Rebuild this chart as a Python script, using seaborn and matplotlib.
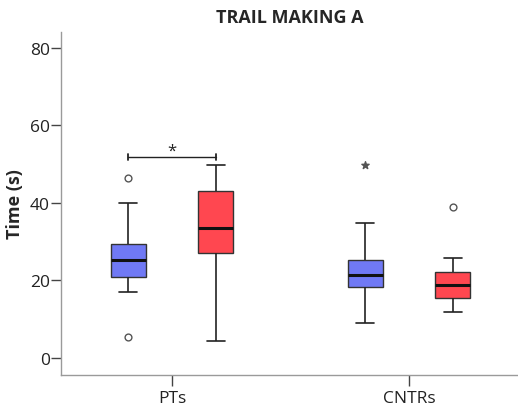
import matplotlib
matplotlib.use("Agg")
import matplotlib.pyplot as plt
import seaborn as sns
import pandas as pd

# Five-number summaries (lower whisker, Q1, median, Q3, upper whisker), seconds
groups = ["PTs", "CNTRs"]
conditions = ["Blue", "Red"]
pts_blue = [17.0, 20.9, 25.4, 29.4, 39.9]
pts_red = [4.5, 27.1, 33.5, 43.1, 49.9]
cntrs_blue = [9.0, 18.4, 21.4, 25.4, 34.8]
cntrs_red = [11.9, 15.4, 18.9, 22.1, 25.8]

# Outliers: (group, condition, value); extremes drawn as stars
outlier_groups = ["PTs", "PTs", "CNTRs"]
outlier_conds = ["Blue", "Blue", "Red"]
outlier_values = [46.4, 5.5, 38.9]
extreme_groups = ["CNTRs"]
extreme_conds = ["Blue"]
extreme_values = [49.8]

y_ticks = [0, 20, 40, 60, 80]
palette = {"Blue": "#7079F5", "Red": "#FF4750"}

rows = []
for g, c, vals in [("PTs", "Blue", pts_blue), ("PTs", "Red", pts_red),
                   ("CNTRs", "Blue", cntrs_blue), ("CNTRs", "Red", cntrs_red)]:
    for v in vals:
        rows.append({"group": g, "cond": c, "time": v})
df = pd.DataFrame(rows)

sns.set_style("white")
plt.rcParams["font.family"] = ["Open Sans", "DejaVu Sans"]

fig = plt.figure(figsize=(5.18, 4.14), dpi=100)
ax = fig.add_axes([61 / 518, 38 / 414, 1 - 61 / 518, (376 - 33) / 414])

width = 0.74
gap = 0.6
sns.boxplot(data=df, x="group", y="time", hue="cond", order=groups,
            hue_order=conditions, palette=palette, width=width, gap=gap,
            whis=(0, 100), showfliers=False, saturation=1, ax=ax,
            boxprops=dict(edgecolor="#333333", linewidth=1.0),
            whiskerprops=dict(color="#222222", linewidth=1.2),
            capprops=dict(color="#222222", linewidth=1.2),
            medianprops=dict(color="#111111", linewidth=2.2),
            legend=False)

offset = width / 4
def xpos(g, c):
    return groups.index(g) + (-offset if c == "Blue" else offset)

ax.scatter([xpos(g, c) for g, c in zip(outlier_groups, outlier_conds)],
           outlier_values, s=24, facecolors="white", edgecolors="#555555",
           linewidths=1.0, zorder=5)
ax.scatter([xpos(g, c) for g, c in zip(extreme_groups, extreme_conds)],
           extreme_values, marker="*", s=30, color="#555555", zorder=5)

# Significance bracket between PT conditions
x1, x2 = xpos("PTs", "Blue"), xpos("PTs", "Red")
yb = 51.9
ax.plot([x1, x2], [yb, yb], color="#222222", lw=1.0)
ax.plot([x1, x1], [yb - 0.7, yb + 0.7], color="#222222", lw=1.3)
ax.plot([x2, x2], [yb - 0.7, yb + 0.7], color="#222222", lw=1.3)
ax.text((x1 + x2) / 2, yb - 0.6, "*", ha="center", va="bottom",
        fontsize=12, color="#222222")

ax.set_xlim(-0.468, 1.46)
ax.set_ylim(-4.4, 84.1)
ax.set_yticks(y_ticks)
ax.set_yticklabels([str(t) for t in y_ticks])
ax.set_xlabel("")
ax.set_ylabel("Time (s)", fontsize=13, fontweight="bold", labelpad=4)
ax.set_title("TRAIL MAKING A", fontsize=13, fontweight="bold", pad=7)

for side in ["top", "right"]:
    ax.spines[side].set_visible(False)
for side in ["left", "bottom"]:
    ax.spines[side].set_color("#9a9a9a")
    ax.spines[side].set_linewidth(1.0)
ax.tick_params(axis="both", direction="out", width=1.0, bottom=True,
               left=True, color="#444444", labelsize=12.5,
               labelcolor="#222222")
ax.tick_params(axis="y", pad=1, length=7)
ax.tick_params(axis="x", pad=3, length=8)

fig.savefig("out.png", dpi=100)
